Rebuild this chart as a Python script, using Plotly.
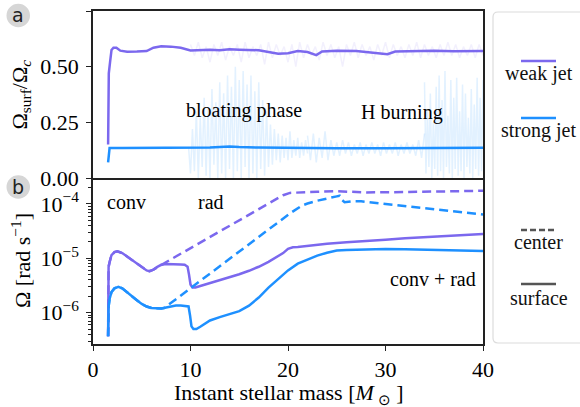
import numpy as np
import plotly.graph_objects as go

W, H = 580, 407
ML, MR, MT, MB = 93, 97, 11, 63
PW, PH = W - ML - MR, H - MT - MB

def px(x):
    return (x - ML) / PW

def py(y):
    return (H - MB - y) / PH

PURPLE = "#7B68EE"
BLUE = "#1E90FF"
FONT = "Liberation Serif"

# ---------------- data: panel a ----------------
weak_ratio_x = [1.55, 1.57, 1.62, 1.75, 1.9, 2.1, 2.4, 2.8, 3.5, 4.5, 5.5, 6.2, 7.0, 8.0, 9.0,
                10.0, 11, 12, 13, 14, 15, 16, 17, 18, 19, 20, 21, 22, 22.9, 23.5, 25, 27,
                28.8, 30.2, 31, 33, 35, 37, 40]
weak_ratio = [0.15, 0.45, 0.47, 0.52, 0.575, 0.585, 0.585, 0.572, 0.567, 0.568, 0.570, 0.585,
              0.592, 0.590, 0.585, 0.573, 0.575, 0.576, 0.574, 0.578, 0.576, 0.575, 0.574,
              0.566, 0.558, 0.560, 0.570, 0.566, 0.552, 0.568, 0.572, 0.570, 0.562, 0.556,
              0.568, 0.570, 0.571, 0.569, 0.570]

strong_ratio_x = [1.55, 1.6, 1.65, 1.7, 3, 6, 9, 10, 12, 14, 15, 17, 20, 25, 30, 35, 40]
strong_ratio = [0.07, 0.09, 0.13, 0.135, 0.135, 0.135, 0.134, 0.136, 0.137, 0.142, 0.139,
                0.137, 0.135, 0.134, 0.134, 0.136, 0.136]

# raw (unsmoothed) oscillations
weak_raw_x = list(np.round(np.linspace(10, 40, 76), 2))
weak_raw = [0.60, 0.55, 0.61, 0.54, 0.59, 0.52, 0.60, 0.55, 0.61, 0.53,
            0.59, 0.55, 0.60, 0.52, 0.61, 0.54, 0.59, 0.55, 0.60, 0.51,
            0.61, 0.54, 0.60, 0.55, 0.59, 0.52, 0.60, 0.50, 0.61, 0.54,
            0.60, 0.55, 0.59, 0.53, 0.61, 0.55, 0.60, 0.54, 0.59, 0.50,
            0.60, 0.55, 0.61, 0.54, 0.60, 0.55, 0.59, 0.53, 0.60, 0.55,
            0.61, 0.54, 0.60, 0.55, 0.59, 0.54, 0.60, 0.55, 0.61, 0.54,
            0.60, 0.55, 0.59, 0.54, 0.60, 0.55, 0.61, 0.55, 0.60, 0.54,
            0.59, 0.55, 0.60, 0.54, 0.60, 0.55]

strong_raw_a_x = list(np.round(np.linspace(9.8, 22.0, 62), 2))
strong_raw_a = [0.14, 0.02, 0.22, 0.03, 0.30, 0.00, 0.27, 0.05, 0.36, 0.01,
                0.31, 0.00, 0.40, 0.06, 0.34, 0.00, 0.43, 0.02, 0.38, 0.00,
                0.46, 0.04, 0.41, 0.00, 0.50, 0.03, 0.44, 0.00, 0.48, 0.05,
                0.42, 0.00, 0.46, 0.02, 0.39, 0.00, 0.43, 0.04, 0.35, 0.01,
                0.30, 0.05, 0.24, 0.06, 0.22, 0.08, 0.20, 0.07, 0.19, 0.09,
                0.18, 0.08, 0.21, 0.09, 0.17, 0.10, 0.18, 0.09, 0.16, 0.10,
                0.17, 0.11]
strong_raw_b_x = list(np.round(np.linspace(22.0, 34.0, 41), 2))
strong_raw_b = [0.19, 0.08, 0.20, 0.07, 0.18, 0.09, 0.21, 0.08, 0.17, 0.10,
                0.16, 0.10, 0.17, 0.11, 0.16, 0.10, 0.15, 0.11, 0.16, 0.10,
                0.15, 0.11, 0.16, 0.11, 0.15, 0.10, 0.16, 0.11, 0.15, 0.11,
                0.16, 0.10, 0.15, 0.11, 0.16, 0.11, 0.15, 0.10, 0.17, 0.09, 0.20]
strong_raw_c_x = list(np.round(np.linspace(34.0, 40.0, 41), 2))
strong_raw_c = [0.43, 0.02, 0.30, 0.05, 0.38, 0.00, 0.25, 0.04, 0.41, 0.01,
                0.46, 0.03, 0.35, 0.00, 0.48, 0.05, 0.28, 0.02, 0.44, 0.00,
                0.36, 0.04, 0.45, 0.01, 0.30, 0.03, 0.42, 0.00, 0.38, 0.05,
                0.27, 0.02, 0.40, 0.00, 0.33, 0.04, 0.45, 0.01, 0.36, 0.03, 0.44]

# ---------------- data: panel b ----------------
weak_surf_x = [1.55, 1.57, 1.6, 1.7, 1.9, 2.2, 2.5, 3.0, 3.5, 4.0, 4.5, 5.0, 5.5, 5.8, 6.2,
               6.6, 7.0, 7.5, 8.0, 8.5, 9.0, 9.4, 9.7, 9.85, 10.0, 10.2, 10.5, 11, 12, 13,
               14, 15, 16, 17, 18, 19, 19.5, 20, 20.5, 21, 22, 24, 26, 28, 30, 32, 34, 36,
               38, 40]
weak_surf = [3.7e-7, 4e-6, 7e-6, 8.5e-6, 1.15e-5, 1.3e-5, 1.35e-5, 1.25e-5, 1.08e-5, 9.2e-6,
             7.9e-6, 6.8e-6, 6.0e-6, 5.8e-6, 6.2e-6, 7.0e-6, 7.6e-6, 7.9e-6, 7.9e-6, 7.8e-6,
             7.7e-6, 7.6e-6, 7.0e-6, 5.0e-6, 3.3e-6, 2.9e-6, 2.9e-6, 3.1e-6, 3.5e-6, 4.0e-6,
             4.5e-6, 5.1e-6, 5.9e-6, 7.0e-6, 8.6e-6, 1.08e-5, 1.25e-5, 1.5e-5, 1.6e-5,
             1.62e-5, 1.7e-5, 1.85e-5, 1.97e-5, 2.06e-5, 2.2e-5, 2.35e-5, 2.45e-5, 2.55e-5,
             2.68e-5, 2.8e-5]

weak_cent_x = [1.55, 1.57, 1.6, 1.7, 1.9, 2.2, 2.5, 3.0, 3.5, 4.0, 4.5, 5.0, 5.5, 5.8, 6.2,
               8, 10, 12, 14, 16, 18, 19, 19.5, 20.2, 21, 23, 25, 28, 32, 36, 40]
weak_cent = [3.7e-7, 4e-6, 7e-6, 8.5e-6, 1.15e-5, 1.3e-5, 1.35e-5, 1.25e-5, 1.08e-5, 9.2e-6,
             7.9e-6, 6.8e-6, 6.0e-6, 5.8e-6, 6.2e-6, 9.6e-6, 1.53e-5, 2.45e-5, 3.9e-5,
             6.3e-5, 1.0e-4, 1.27e-4, 1.45e-4, 1.6e-4, 1.63e-4, 1.68e-4, 1.72e-4, 1.63e-4,
             1.66e-4, 1.7e-4, 1.75e-4]

strong_surf_x = [1.55, 1.57, 1.6, 1.7, 1.9, 2.2, 2.6, 3.0, 3.5, 4, 4.5, 5, 5.5, 6, 6.5, 7,
                 7.5, 8, 8.5, 9, 9.5, 9.8, 9.95, 10.1, 10.3, 10.6, 11, 11.5, 12, 13, 14, 15,
                 16, 17, 18, 19, 20, 21, 22, 23, 24, 25, 26, 28, 30, 32, 34, 36, 38, 40]
strong_surf = [3.7e-7, 6e-7, 1.3e-6, 1.8e-6, 2.4e-6, 2.8e-6, 3.0e-6, 2.8e-6, 2.4e-6, 2.0e-6,
               1.7e-6, 1.45e-6, 1.3e-6, 1.22e-6, 1.2e-6, 1.2e-6, 1.25e-6, 1.32e-6, 1.36e-6,
               1.35e-6, 1.33e-6, 1.3e-6, 9e-7, 5.6e-7, 5.0e-7, 5.0e-7, 5.5e-7, 6.4e-7, 7.2e-7,
               8.3e-7, 9.5e-7, 1.07e-6, 1.35e-6, 1.9e-6, 2.9e-6, 4.2e-6, 6.0e-6, 8.0e-6,
               9.6e-6, 1.12e-5, 1.27e-5, 1.39e-5, 1.43e-5, 1.47e-5, 1.48e-5, 1.47e-5,
               1.45e-5, 1.42e-5, 1.39e-5, 1.36e-5]

strong_cent_x = [1.55, 1.57, 1.6, 1.7, 1.9, 2.2, 2.6, 3.0, 3.5, 4, 4.5, 5, 5.5, 6, 6.5, 7,
                 7.3, 10, 12, 14, 16, 18, 20.2, 21.4, 22, 23, 24, 25, 25.3, 25.5, 25.8, 26.5,
                 27.5, 30, 33, 36, 40]
strong_cent = [3.7e-7, 6e-7, 1.3e-6, 1.8e-6, 2.4e-6, 2.8e-6, 3.0e-6, 2.8e-6, 2.4e-6, 2.0e-6,
               1.7e-6, 1.45e-6, 1.3e-6, 1.22e-6, 1.2e-6, 1.2e-6, 1.22e-6, 2.8e-6, 5.3e-6,
               9.9e-6, 1.84e-5, 3.4e-5, 6.7e-5, 9.3e-5, 1.02e-4, 1.15e-4, 1.28e-4, 1.38e-4,
               1.42e-4, 1.2e-4, 1.08e-4, 1.12e-4, 1.12e-4, 1.0e-4, 8.8e-5, 7.6e-5, 6.4e-5]

x_ticks = [0, 10, 20, 30, 40]
ya_ticks = [0, 0.25, 0.5, 0.75]
ya_ticktext = ["0.00", "0.25", "0.50", "0.75"]
yb_ticks = [1e-6, 1e-5, 1e-4]
yb_ticktext = ["10<sup>−6</sup>", "10<sup>−5</sup>", "10<sup>−4</sup>"]

series_labels = ["weak jet", "strong jet"]
style_labels = ["center", "surface"]

# ---------------- figure ----------------
fig = go.Figure()

def line(x, y, color, width, xa="x", ya="y", dash=None):
    fig.add_trace(go.Scatter(x=x, y=y, mode="lines", xaxis=xa, yaxis=ya,
                             line=dict(color=color, width=width, dash=dash),
                             showlegend=False, hoverinfo="skip"))

# raw bands
line(weak_raw_x, weak_raw, "rgba(123,104,238,0.10)", 1.5)
line(strong_raw_a_x, strong_raw_a, "rgba(30,144,255,0.13)", 1.5)
line(strong_raw_b_x, strong_raw_b, "rgba(30,144,255,0.13)", 1.5)
line(strong_raw_c_x, strong_raw_c, "rgba(30,144,255,0.13)", 1.5)
# smoothed
line(weak_ratio_x, weak_ratio, PURPLE, 2.5)
line(strong_ratio_x, strong_ratio, BLUE, 2.5)

# panel b
line(weak_surf_x, weak_surf, PURPLE, 2.5, "x2", "y2")
line(strong_surf_x, strong_surf, BLUE, 2.5, "x2", "y2")
line(weak_cent_x, weak_cent, PURPLE, 2.5, "x2", "y2", "9px,5px")
line(strong_cent_x, strong_cent, BLUE, 2.5, "x2", "y2", "9px,5px")

split = py(178)
TICKFONT = dict(family=FONT, size=22, color="black")
axis_common = dict(showline=True, linecolor="#222", linewidth=1.5,
                   showgrid=False, zeroline=False, tickcolor="#222", tickwidth=1.2,
                   automargin=False, tickfont=TICKFONT)

minor_vals = [m * 10.0 ** e for e in range(-7, -3) for m in range(2, 10)]

fig.update_layout(
    width=W, height=H, margin=dict(l=ML, r=MR, t=MT, b=MB, autoexpand=False),
    paper_bgcolor="white", plot_bgcolor="white", showlegend=False,
    font=dict(family=FONT, size=20, color="black"),
    xaxis=dict(domain=[0, 1], range=[0, 40], anchor="y", showticklabels=False,
               ticks="", mirror=True, **axis_common),
    yaxis=dict(domain=[split, 1], range=[0, 0.75], anchor="x", tickmode="array",
               tickvals=ya_ticks, ticktext=ya_ticktext, ticks="outside", ticklen=5,
               ticklabelstandoff=3, mirror=True, **axis_common),
    xaxis2=dict(domain=[0, 1], range=[0, 40], anchor="y2", matches="x",
                tickmode="array", tickvals=x_ticks, ticks="outside", ticklen=5,
                mirror=False, **axis_common),
    yaxis2=dict(domain=[0, split], type="log", range=[-6.576, -3.522], anchor="x2",
                tickmode="array", tickvals=yb_ticks, ticktext=yb_ticktext,
                ticks="outside", ticklen=5, ticklabelstandoff=3, mirror=True,
                minor=dict(tickvals=minor_vals, ticks="outside", ticklen=3,
                           tickcolor="#222", tickwidth=1),
                **axis_common),
)

ann = []

def add_text(text, x, y, size=20, xref="paper", yref="paper", angle=0, family=FONT,
             color="black"):
    ann.append(dict(text=text, x=x, y=y, xref=xref, yref=yref, textangle=angle,
                    xanchor="center", yanchor="middle", showarrow=False,
                    font=dict(family=family, size=size, color=color)))

# axis titles
add_text("Ω<sub>surf</sub>/Ω<sub><i>c</i></sub>", px(21), py(94.5), 22, angle=-90)
add_text("Ω [rad s<sup>−1</sup>]", px(21), py(261), 22, angle=-90)
add_text("Instant stellar mass [<i>M</i><sub> ⊙</sub> ]", 0.5, py(393.5), 22)
# in-plot labels
add_text("bloating phase", 15.5, 0.303, 20, "x", "y")
add_text("H burning", 31.7, 0.296, 20, "x", "y")
add_text("conv", px(126.7), py(202), 20)
add_text("rad", px(211), py(202), 20)
add_text("conv + rad", px(433), py(278.5), 20)
# panel letters
for letter, cy in [("a", 15.5), ("b", 187)]:
    add_text(letter, px(18.3), py(cy), 19, family="DejaVu Sans", color="#222")
# legend texts
leg_text_y = [73.5, 130.5, 242.5, 297.5]
for t, yy in zip(series_labels + style_labels, leg_text_y):
    add_text(t, px(538.5), py(yy), 20, color="#111")
fig.update_layout(annotations=ann)

shapes = []
for cy in [15.5, 187]:
    shapes.append(dict(type="circle", xref="paper", yref="paper", x0=px(6.5), x1=px(30),
                       y0=py(cy + 11.7), y1=py(cy - 11.7), fillcolor="#d6d6d6",
                       line=dict(width=0), layer="below"))
# legend box (rounded)
x0, x1, y0, y1, r = 493, 590, 12, 343, 5
path = (f"M {px(x0 + r)} {py(y0)} L {px(x1)} {py(y0)} L {px(x1)} {py(y1)} "
        f"L {px(x0 + r)} {py(y1)} Q {px(x0)} {py(y1)} {px(x0)} {py(y1 - r)} "
        f"L {px(x0)} {py(y0 + r)} Q {px(x0)} {py(y0)} {px(x0 + r)} {py(y0)} Z")
shapes.append(dict(type="path", path=path, xref="paper", yref="paper",
                   line=dict(color="#dcdcdc", width=1.2), fillcolor="rgba(255,255,255,0)"))
leg_line_y = [61, 118, 230, 284]
leg_colors = [PURPLE, BLUE, "#555555", "#555555"]
leg_dash = ["solid", "solid", "6px,3px", "solid"]
for yy, c, d in zip(leg_line_y, leg_colors, leg_dash):
    shapes.append(dict(type="line", xref="paper", yref="paper", x0=px(521), x1=px(556),
                       y0=py(yy), y1=py(yy), line=dict(color=c, width=2.5, dash=d)))
fig.update_layout(shapes=shapes)

fig.write_html("out.html", config={"displayModeBar": False},
               post_script="document.body.style.margin='0px';")
